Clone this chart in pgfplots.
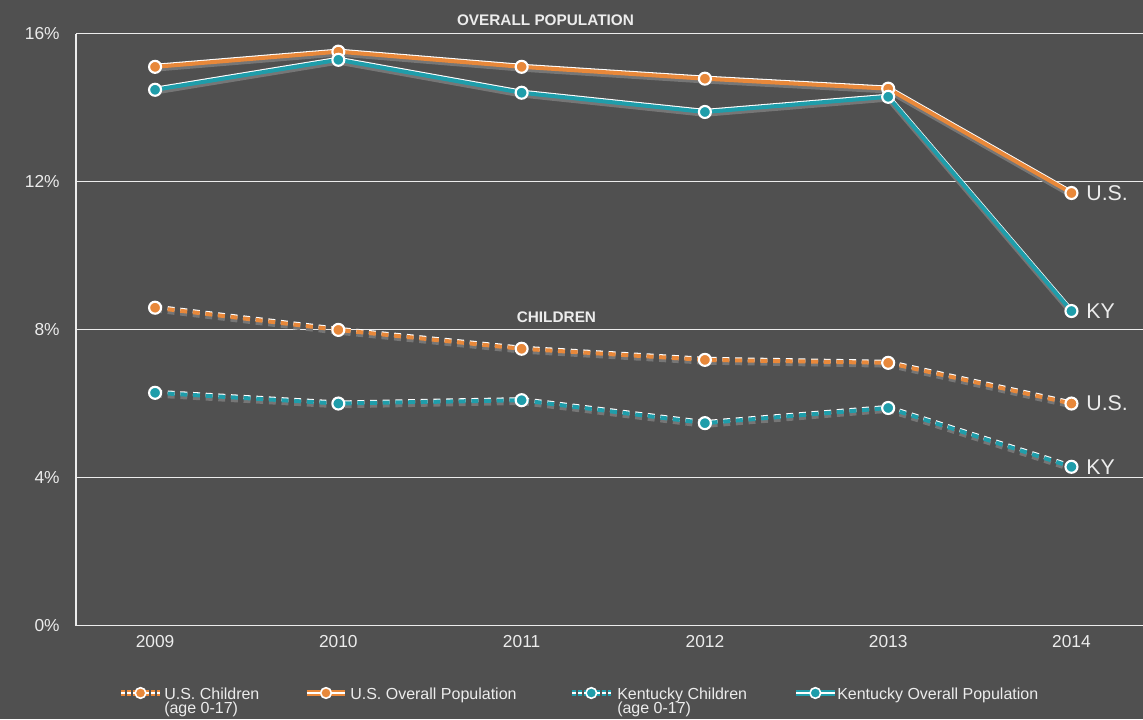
\documentclass[border=0pt]{standalone}
\usepackage{fontspec}
\setmainfont{Liberation Sans}
\usepackage{pgfplots}
\usepackage{pgfplotstable}
\pgfplotsset{compat=1.18}

\definecolor{bgc}{RGB}{80,80,80}
\definecolor{usor}{RGB}{232,136,58}
\definecolor{kyte}{RGB}{31,157,170}
\definecolor{txt}{RGB}{236,236,236}
\definecolor{shad}{RGB}{118,118,118}

% values in percent
\pgfplotstableread{
year usov kyov usch kych
2009 15.10 14.48 8.59 6.29
2010 15.51 15.29 7.99 6.00
2011 15.10 14.40 7.48 6.09
2012 14.78 13.88 7.18 5.47
2013 14.51 14.29 7.10 5.88
2014 11.69 8.50 6.00 4.29
}\rates

\pgfplotsset{
  shadowln/.style={draw=shad, line width=3.2pt, yshift=-2pt, mark=none},
  whiteln/.style={draw=white, line width=3pt, yshift=0.8pt, mark=none},
  colln/.style={draw=#1, line width=3pt, mark=*, mark size=4.5pt,
    mark options={solid, draw=white, fill=#1, line width=1.6pt}},
  dash/.style={dash pattern=on 5.2pt off 4.3pt},
}

\begin{document}
\begin{tikzpicture}
\fill[bgc] (0,0) rectangle (857.25pt,539.25pt);

\begin{axis}[
  at={(57.2pt,70.1pt)}, anchor=south west,
  scale only axis, width=800pt, height=444pt,
  xmin=2008.57, xmax=2014.39,
  ymin=0, ymax=16,
  axis x line=bottom, axis y line=left,
  axis line style={-, draw=txt, line width=1.3pt},
  x axis line style={draw=white!85!gray},
  xtick={2009,2010,2011,2012,2013,2014},
  xticklabels={2009,2010,2011,2012,2013,2014},
  ytick={0,4,8,12,16},
  yticklabels={0\%,4\%,8\%,12\%,16\%},
  major tick length=0pt,
  ymajorgrids,
  grid style={draw=txt, line width=1.3pt},
  tick label style={font=\fontsize{13}{13}\selectfont, text=txt},
  yticklabel style={xshift=-9pt},
  xticklabel style={yshift=-4pt},
  clip=false,
]

% children, dashed
\addplot[shadowln, dash] table[x=year, y=usch] {\rates};
\addplot[whiteln, dash] table[x=year, y=usch] {\rates};
\addplot[colln=usor, dash] table[x=year, y=usch] {\rates};

\addplot[shadowln, dash] table[x=year, y=kych] {\rates};
\addplot[whiteln, dash] table[x=year, y=kych] {\rates};
\addplot[colln=kyte, dash] table[x=year, y=kych] {\rates};

% overall population, solid
\addplot[shadowln] table[x=year, y=usov] {\rates};
\addplot[whiteln] table[x=year, y=usov] {\rates};
\addplot[colln=usor] table[x=year, y=usov] {\rates};

\addplot[shadowln] table[x=year, y=kyov] {\rates};
\addplot[whiteln] table[x=year, y=kyov] {\rates};
\addplot[colln=kyte] table[x=year, y=kyov] {\rates};

% section labels
\node[font=\bfseries\fontsize{11.5}{11.5}\selectfont, text=txt] at (axis cs:2011.13,16.37) {OVERALL POPULATION};
\node[font=\bfseries\fontsize{11.5}{11.5}\selectfont, text=txt] at (axis cs:2011.19,8.34) {CHILDREN};

% end labels
\foreach \yy/\lab in {11.69/U.S., 8.50/KY, 6.00/U.S., 4.29/KY}{
  \edef\tmp{\noexpand\node[anchor=west, xshift=9pt, font=\noexpand\fontsize{16}{16}\noexpand\selectfont, text=txt, inner sep=2pt] at (axis cs:2014,\yy) {\lab};}
  \tmp
}
\end{axis}

% legend
\tikzset{lgtxt/.style={anchor=base west, inner sep=0pt, text=txt, font=\fontsize{12}{12}\selectfont}}
\def\lgicon#1#2#3#4{%
  \draw[#3, line width=3.8pt, #4] (#1pt-14.5pt,19.5pt) -- (#1pt+14.5pt,19.5pt);
  \draw[white, line width=0.8pt, #4] (#1pt-14.5pt,19.5pt) -- (#1pt+14.5pt,19.5pt);
  \fill[#3, draw=white, line width=1.2pt] (#1pt,19.5pt) circle (4pt);
}
\lgicon{105.4}{}{usor}{dash pattern=on 3pt off 1.5pt}
\lgicon{244.5}{}{usor}{solid}
\lgicon{443.5}{}{kyte}{dash pattern=on 3pt off 1.5pt}
\lgicon{611.5}{}{kyte}{solid}

\node[lgtxt] at (123pt,15pt) {U.S. Children};
\node[lgtxt] at (123pt,3.8pt) {(age 0-17)};
\node[lgtxt] at (262.5pt,15pt) {U.S. Overall Population};
\node[lgtxt] at (462.75pt,15pt) {Kentucky Children};
\node[lgtxt] at (462.75pt,3.8pt) {(age 0-17)};
\node[lgtxt] at (627.75pt,15pt) {Kentucky Overall Population};

\pgfresetboundingbox
\useasboundingbox (0,0) rectangle (857.25pt,539.25pt);
\end{tikzpicture}
\end{document}
